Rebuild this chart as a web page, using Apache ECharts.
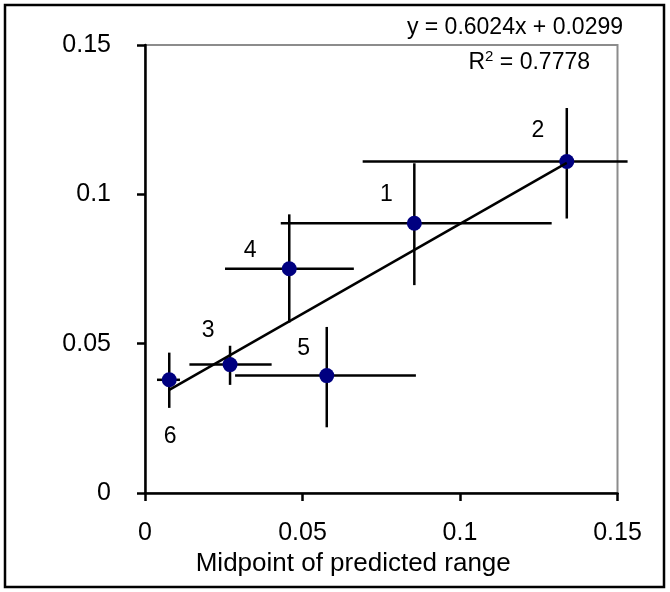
<!DOCTYPE html>
<html>
<head>
<meta charset="utf-8">
<script src="https://cdn.jsdelivr.net/npm/echarts@6/dist/echarts.min.js"></script>
<style>
  html, body { margin: 0; padding: 0; background: #fff; }
  #chart { width: 670px; height: 592px; }
</style>
</head>
<body>
<div id="chart"></div>
<script>
// point ids and midpoints
const pointIds = ['1', '2', '3', '4', '5', '6'];
const midX = [0.0855, 0.1339, 0.0270, 0.0458, 0.0577, 0.0077];
const obsY = [0.0903, 0.1110, 0.0430, 0.0751, 0.0393, 0.0379];
// error bar ends
const xLow  = [0.0431, 0.0691, 0.0141, 0.0254, 0.0286, 0.0038];
const xHigh = [0.1291, 0.1532, 0.0402, 0.0663, 0.0860, 0.0111];
const yLow  = [0.0696, 0.0919, 0.0362, 0.0571, 0.0220, 0.0285];
const yHigh = [0.1104, 0.1289, 0.0493, 0.0933, 0.0556, 0.0470];
// trendline as printed on the chart
const slope = 0.6024;
const intercept = 0.0299;
const rSquared = '0.7778';
const axisTicks = [0, 0.05, 0.1, 0.15];

const FONT = '"Liberation Sans", Arial, Helvetica, sans-serif';

// where each number label sits relative to its dot
const labelNudge = {
  '1': [-28, -29], '2': [-29, -31], '3': [-22, -34],
  '4': [-39, -18], '5': [-23, -27], '6': [1, 57]
};

const barData = midX.map((x, i) => [x, obsY[i], xLow[i], xHigh[i], yLow[i], yHigh[i]]);
const dotData = midX.map((x, i) => ({
  value: [x, obsY[i]],
  label: { offset: labelNudge[pointIds[i]] }
}));
const xMin = Math.min(...midX), xMax = Math.max(...midX);
const trendData = [[xMin, slope * xMin + intercept], [xMax, slope * xMax + intercept]];

const chart = echarts.init(document.getElementById('chart'));

const axisCommon = {
  type: 'value',
  min: axisTicks[0],
  max: axisTicks[axisTicks.length - 1],
  interval: 0.05,
  splitLine: { show: false },
  axisLine: { show: true, onZero: false, lineStyle: { color: '#000', width: 2.5 } },
  axisTick: { show: true, inside: false, length: 8, lineStyle: { color: '#000', width: 2.5 } }
};

chart.setOption({
  animation: false,
  backgroundColor: '#fff',
  textStyle: { fontFamily: FONT },
  grid: {
    left: 145, top: 45, right: 52.5, bottom: 99,
    show: true, borderColor: '#8c8c8c', borderWidth: 2, backgroundColor: 'transparent'
  },
  xAxis: Object.assign({}, axisCommon, {
    name: 'Midpoint of predicted range',
    nameLocation: 'middle',
    nameGap: 44,
    nameTextStyle: { color: '#000', fontSize: 26, fontFamily: FONT, padding: [0, 56, 0, 0] },
    axisLabel: { color: '#000', fontSize: 25, fontFamily: FONT, margin: 28 }
  }),
  yAxis: Object.assign({}, axisCommon, {
    axisLabel: { color: '#000', fontSize: 25, fontFamily: FONT, margin: 34 }
  }),
  graphic: [
    {
      type: 'rect', z: 0, silent: true,
      shape: { x: 5, y: 5, width: 659, height: 582 },
      style: { fill: 'none', stroke: '#000', lineWidth: 2.5 }
    },
    {
      type: 'text', z: 10, silent: true,
      style: {
        x: 623, y: 28, align: 'right', verticalAlign: 'middle',
        text: 'y = ' + slope + 'x + ' + intercept,
        font: '23px ' + FONT, fill: '#000'
      }
    },
    {
      type: 'text', z: 10, silent: true,
      style: {
        x: 590, y: 63, align: 'right', verticalAlign: 'middle',
        text: '{r|R}{s|2}{r| = ' + rSquared + '}',
        fill: '#000',
        rich: {
          r: { fontSize: 23, fontFamily: FONT, lineHeight: 28 },
          s: { fontSize: 15, fontFamily: FONT, verticalAlign: 'top', lineHeight: 13 }
        }
      }
    }
  ],
  series: [
    {
      type: 'custom',
      name: 'error bars',
      data: barData,
      encode: { x: 0, y: 1 },
      clip: false,
      z: 2,
      renderItem: function (params, api) {
        const c = api.coord([api.value(0), api.value(1)]);
        const l = api.coord([api.value(2), api.value(1)]);
        const r = api.coord([api.value(3), api.value(1)]);
        const lo = api.coord([api.value(0), api.value(4)]);
        const hi = api.coord([api.value(0), api.value(5)]);
        const st = { stroke: '#000', lineWidth: 2.5 };
        return {
          type: 'group',
          children: [
            { type: 'line', shape: { x1: l[0], y1: c[1], x2: r[0], y2: c[1] }, style: st },
            { type: 'line', shape: { x1: c[0], y1: lo[1], x2: c[0], y2: hi[1] }, style: st }
          ]
        };
      }
    },
    {
      type: 'scatter',
      name: 'points',
      data: dotData,
      symbol: 'circle',
      symbolSize: 15,
      z: 3,
      itemStyle: { color: '#000080', opacity: 1 },
      label: {
        show: true,
        position: 'inside',
        color: '#000',
        fontSize: 23,
        fontFamily: FONT,
        formatter: p => pointIds[p.dataIndex]
      }
    },
    {
      type: 'line',
      name: 'trend',
      data: trendData,
      showSymbol: false,
      symbol: 'none',
      z: 4,
      lineStyle: { color: '#000', width: 2.5 }
    }
  ]
});
</script>
</body>
</html>
